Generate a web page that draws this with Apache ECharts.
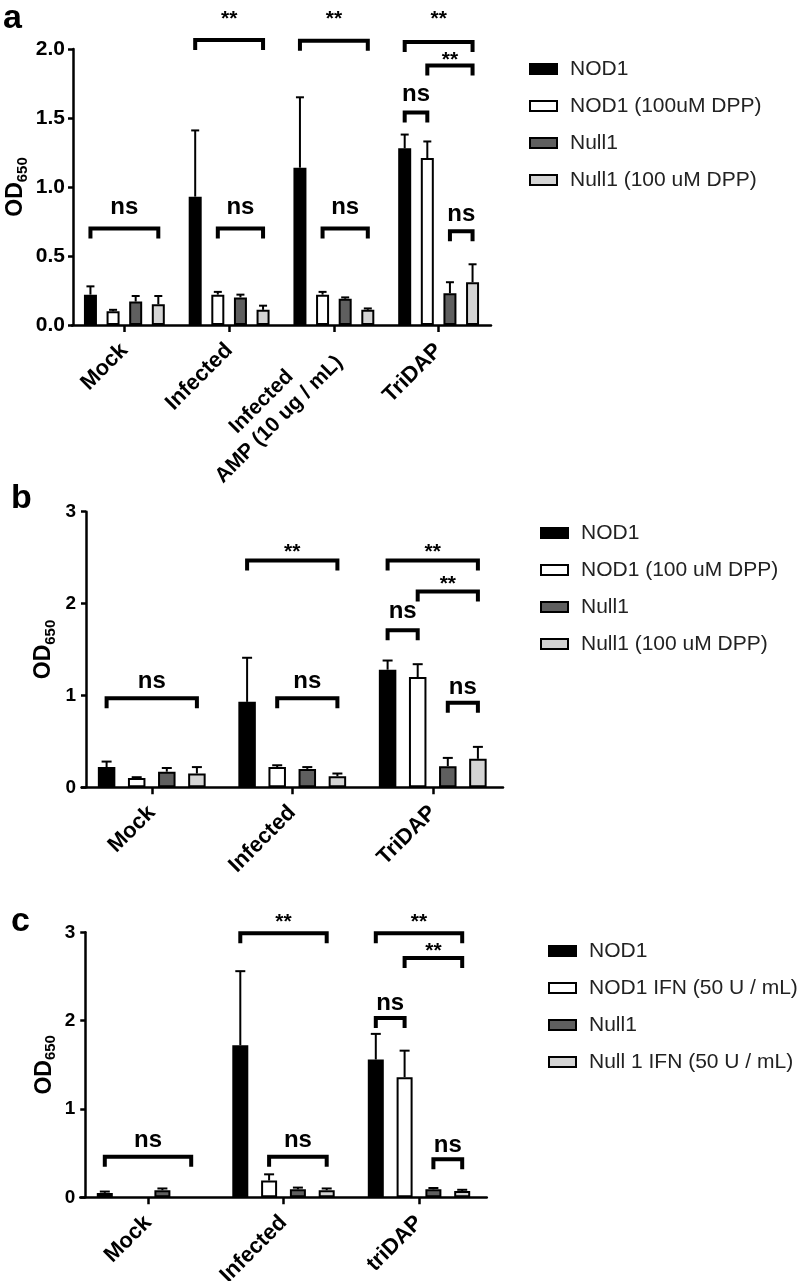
<!DOCTYPE html>
<html><head><meta charset="utf-8">
<script src="https://cdn.jsdelivr.net/npm/echarts@6/dist/echarts.min.js"></script>
<style>html,body{margin:0;padding:0;background:#fff}#c{width:812px;height:1281px}</style>
</head><body><div id="c"></div>
<script>
const FONT = 'Arial, "Liberation Sans", Helvetica, sans-serif';

// ---------- Panel a ----------
const catsA = ['Mock', 'Infected', 'Infected\nAMP (10 ug / mL)', 'TriDAP'];
const namesA = ['NOD1', 'NOD1 (100uM DPP)', 'Null1', 'Null1 (100 uM DPP)'];
const nod1A = [0.22, 0.93, 1.14, 1.28];
const nod1DppA = [0.10, 0.22, 0.22, 1.21];
const null1A = [0.17, 0.20, 0.19, 0.23];
const null1DppA = [0.15, 0.11, 0.11, 0.31];
const errNod1A = [0.28, 1.41, 1.65, 1.38];
const errNod1DppA = [0.11, 0.24, 0.24, 1.33];
const errNull1A = [0.21, 0.22, 0.20, 0.31];
const errNull1DppA = [0.21, 0.14, 0.12, 0.44];
const yTicksA = ['0.0', '0.5', '1.0', '1.5', '2.0'];
// [category, fromBar, toBar, bracketY, labelY, label]
const annA = [
  [0, 0, 3, 0.70, 0.85, 'ns'],
  [1, 0, 3, 2.065, 2.26, '**'],
  [1, 1, 3, 0.70, 0.85, 'ns'],
  [2, 0, 3, 2.06, 2.26, '**'],
  [2, 1, 3, 0.70, 0.85, 'ns'],
  [3, 0, 3, 2.05, 2.26, '**'],
  [3, 1, 3, 1.88, 1.96, '**'],
  [3, 0, 1, 1.54, 1.67, 'ns'],
  [3, 2, 3, 0.68, 0.80, 'ns']
];

// ---------- Panel b ----------
const catsB = ['Mock', 'Infected', 'TriDAP'];
const namesB = ['NOD1', 'NOD1 (100 uM DPP)', 'Null1', 'Null1 (100 uM DPP)'];
const nod1B = [0.22, 0.93, 1.28];
const nod1DppB = [0.10, 0.22, 1.20];
const null1B = [0.17, 0.20, 0.23];
const null1DppB = [0.15, 0.12, 0.31];
const errNod1B = [0.28, 1.41, 1.38];
const errNod1DppB = [0.11, 0.24, 1.34];
const errNull1B = [0.21, 0.22, 0.32];
const errNull1DppB = [0.22, 0.15, 0.44];
const yTicksB = ['0', '1', '2', '3'];
const annB = [
  [0, 0, 3, 0.97, 1.15, 'ns'],
  [1, 0, 3, 2.47, 2.62, '**'],
  [1, 1, 3, 0.97, 1.15, 'ns'],
  [2, 0, 3, 2.47, 2.62, '**'],
  [2, 1, 3, 2.13, 2.28, '**'],
  [2, 0, 1, 1.71, 1.91, 'ns'],
  [2, 2, 3, 0.92, 1.09, 'ns']
];

// ---------- Panel c ----------
const catsC = ['Mock', 'Infected', 'triDAP'];
const namesC = ['NOD1', 'NOD1 IFN (50 U / mL)', 'Null1', 'Null 1 IFN (50 U / mL)'];
const nod1C = [0.05, 1.72, 1.56];
const nod1IfnC = [null, 0.19, 1.36];
const null1C = [0.08, 0.09, 0.09];
const null1IfnC = [null, 0.08, 0.07];
const errNod1C = [0.065, 2.56, 1.85];
const errNod1IfnC = [null, 0.26, 1.66];
const errNull1C = [0.10, 0.11, 0.105];
const errNull1IfnC = [null, 0.10, 0.085];
const yTicksC = ['0', '1', '2', '3'];
const annC = [
  [0, 0, 3, 0.46, 0.65, 'ns'],
  [1, 0, 3, 2.99, 3.18, '**'],
  [1, 1, 3, 0.46, 0.65, 'ns'],
  [2, 0, 3, 2.99, 3.18, '**'],
  [2, 1, 3, 2.71, 2.85, '**'],
  [2, 0, 1, 2.03, 2.20, 'ns'],
  [2, 2, 3, 0.43, 0.59, 'ns']
];

const barColors = ['#000000', '#ffffff', '#5f5f5f', '#d4d4d4'];

const panels = [
  { cats: catsA, names: namesA, vals: [nod1A, nod1DppA, null1A, null1DppA],
    errs: [errNod1A, errNod1DppA, errNull1A, errNull1DppA], ticks: yTicksA, ann: annA,
    max: 2, interval: 0.5,
    grid: { left: 72, top: 49, width: 419, height: 276 }, yOffset: -1,
    w: 13, g: 0.74, cap: 8, tickFont: 21, labelMargin: 8, nameGap: 43,
    legend: { left: 524, top: 53 }, letter: { t: 'a', x: 3, y: 2 } },
  { cats: catsB, names: namesB, vals: [nod1B, nod1DppB, null1B, null1DppB],
    errs: [errNod1B, errNod1DppB, errNull1B, errNull1DppB], ticks: yTicksB, ann: annB,
    max: 3, interval: 1,
    grid: { left: 81.5, top: 511.7, width: 421.5, height: 275.6 }, yOffset: -4.5,
    w: 17.5, g: 0.72, cap: 10, tickFont: 19, labelMargin: 10, nameGap: 28,
    legend: { left: 535, top: 517 }, letter: { t: 'b', x: 11, y: 482 } },
  { cats: catsC, names: namesC, vals: [nod1C, nod1IfnC, null1C, null1IfnC],
    errs: [errNod1C, errNod1IfnC, errNull1C, errNull1IfnC], ticks: yTicksC, ann: annC,
    max: 3, interval: 1,
    grid: { left: 80.25, top: 932.3, width: 406.5, height: 265 }, yOffset: -5,
    w: 16, g: 0.8, cap: 10, tickFont: 19, labelMargin: 10, nameGap: 27,
    legend: { left: 543, top: 935 }, letter: { t: 'c', x: 11, y: 905 } }
];

function barCenterOffset(i, w, g) {
  const total = 4 * w * (1 + g) - w * g;
  return -total / 2 + i * w * (1 + g) + w / 2;
}

const option = {
  animation: false,
  backgroundColor: '#ffffff',
  grid: [], xAxis: [], yAxis: [], series: [], legend: [], graphic: []
};

panels.forEach((p, pi) => {
  option.grid.push(Object.assign({ containLabel: false, outerBoundsMode: 'none' }, p.grid));
  option.xAxis.push({
    type: 'category', gridIndex: pi, data: p.cats,
    axisLine: { show: true, lineStyle: { color: '#000', width: 2.5 } },
    axisTick: { show: true, alignWithLabel: true, length: 7, lineStyle: { color: '#000', width: 2.5 } },
    axisLabel: {
      interval: 0, rotate: 45, margin: 22, color: '#000', fontSize: 22, fontWeight: 'bold', fontFamily: FONT,
      formatter: function (v) {
        if (v.indexOf('\n') >= 0) {
          return v.split('\n').map(s => '{c|' + s + '}').join('\n');
        }
        return v;
      },
      rich: { c: { width: 180, align: 'center', fontSize: 21, fontWeight: 'bold', fontFamily: FONT, color: '#000', lineHeight: 25 } }
    },
    splitLine: { show: false }
  });
  option.yAxis.push({
    type: 'value', gridIndex: pi, min: 0, max: p.max, interval: p.interval, offset: p.yOffset,
    axisLine: { show: true, lineStyle: { color: '#000', width: 2.5 } },
    axisTick: { show: true, length: 5, lineStyle: { color: '#000', width: 2.5 } },
    axisLabel: {
      margin: p.labelMargin, color: '#000', fontSize: p.tickFont, fontWeight: 'bold', fontFamily: FONT,
      formatter: function (v) { return p.ticks[Math.round(v / p.interval)]; }
    },
    splitLine: { show: false },
    name: '{o|OD}{s|650}', nameLocation: 'middle', nameRotate: 90, nameGap: p.nameGap,
    nameMoveOverlap: false,
    nameTextStyle: {
      rich: {
        o: { fontSize: 23, fontWeight: 'bold', fontFamily: FONT, color: '#000', lineHeight: 28, verticalAlign: 'middle' },
        s: { fontSize: 15, fontWeight: 'bold', fontFamily: FONT, color: '#000', lineHeight: 28, verticalAlign: 'bottom' }
      }
    }
  });
  // bars
  p.vals.forEach((arr, si) => {
    option.series.push({
      type: 'bar', name: p.names[si], xAxisIndex: pi, yAxisIndex: pi,
      data: arr.map(v => v === null ? '-' : v),
      barWidth: p.w, barGap: Math.round(p.g * 100) + '%',
      itemStyle: { color: barColors[si], borderColor: '#000', borderWidth: 2 },
      emphasis: { disabled: true }
    });
  });
  // error bars
  const errData = [];
  p.vals.forEach((arr, si) => {
    arr.forEach((v, ci) => {
      if (v !== null && p.errs[si][ci] !== null) errData.push([ci, si, v, p.errs[si][ci]]);
    });
  });
  option.series.push({
    type: 'custom', xAxisIndex: pi, yAxisIndex: pi, z: 4, clip: false,
    encode: { x: 0, y: 3 }, data: errData, silent: true,
    renderItem: function (params, api) {
      const c = api.value(0), s = api.value(1), v = api.value(2), e = api.value(3);
      const cx = api.coord([c, 0])[0] + barCenterOffset(s, p.w, p.g);
      const yv = api.coord([c, v])[1], ye = api.coord([c, e])[1];
      const hw = p.cap / 2;
      return { type: 'group', children: [
        { type: 'line', shape: { x1: cx, y1: yv, x2: cx, y2: ye }, style: { stroke: '#000', lineWidth: 2 } },
        { type: 'line', shape: { x1: cx - hw, y1: ye, x2: cx + hw, y2: ye }, style: { stroke: '#000', lineWidth: 2 } }
      ] };
    }
  });
  // significance brackets
  option.series.push({
    type: 'custom', xAxisIndex: pi, yAxisIndex: pi, z: 5, clip: false, silent: true,
    encode: { x: 0, y: 1 }, data: p.ann.map(a => [a[0], a[3]]),
    renderItem: function (params, api) {
      const a = p.ann[params.dataIndex];
      const cx = api.coord([a[0], 0])[0];
      const x1 = cx + barCenterOffset(a[1], p.w, p.g);
      const x2 = cx + barCenterOffset(a[2], p.w, p.g);
      const y = api.coord([a[0], a[3]])[1];
      const ly = api.coord([a[0], a[4]])[1] + (a[5] === '**' ? 6 : 0);
      const fs = a[5] === '**' ? 21 : 24;
      return { type: 'group', children: [
        { type: 'polyline', shape: { points: [[x1, y + 10], [x1, y], [x2, y], [x2, y + 10]] },
          style: { stroke: '#000', lineWidth: 4, fill: null, lineJoin: 'miter' } },
        { type: 'text', style: { x: (x1 + x2) / 2, y: ly, text: a[5], fill: '#000',
          font: 'bold ' + fs + 'px ' + FONT, align: 'center', verticalAlign: 'middle' } }
      ] };
    }
  });
  option.legend.push({
    data: p.names, orient: 'vertical', left: p.legend.left, top: p.legend.top,
    icon: 'rect', itemWidth: 27, itemHeight: 10, itemGap: 15, selectedMode: false,
    textStyle: { fontSize: 21, color: '#222', fontFamily: FONT, lineHeight: 22, padding: [0, 0, 0, 8] }
  });
  option.graphic.push({
    type: 'text', left: p.letter.x, top: p.letter.y,
    style: { text: p.letter.t, font: 'bold 34px ' + FONT, fill: '#000' }
  });
});

const chart = echarts.init(document.getElementById('c'), null, { renderer: 'canvas' });
chart.setOption(option);
</script>
</body></html>
